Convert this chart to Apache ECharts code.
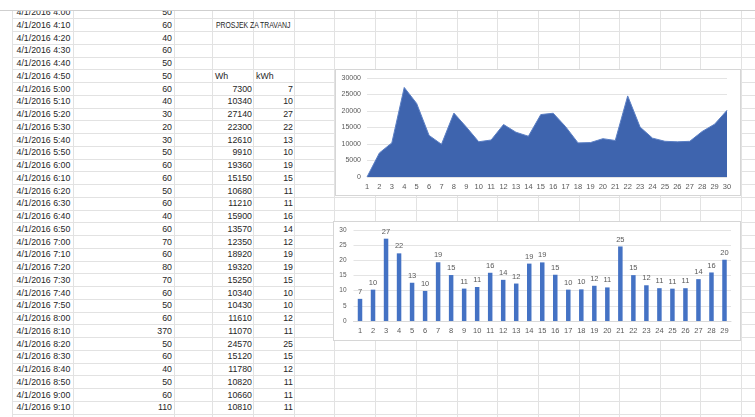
<!DOCTYPE html>
<html>
<head>
<meta charset="utf-8">
<script src="https://cdn.jsdelivr.net/npm/echarts@6/dist/echarts.min.js"></script>
<style>
  body { margin: 0; width: 755px; height: 417px; overflow: hidden; background: #fff; position: relative;
         font-family: "Liberation Sans", Arial, sans-serif; }
  #sheet { position: absolute; left: 0; top: 11px; width: 755px; height: 406px; overflow: hidden; }
  .hl { position: absolute; left: 12px; right: 0; height: 1px; background: #e2e2e2; }
  .vl { position: absolute; top: 0; bottom: 0; width: 1px; background: #e2e2e2; }
  .t { position: absolute; font-size: 8.8px; line-height: 12px; color: #262626; white-space: nowrap; }
  .r { text-align: right; }
  .chart { position: absolute; background: #fff; border: 1px solid #d6d6d6; box-sizing: border-box; }
</style>
</head>
<body>
<div style="position:absolute;left:0;top:10px;width:755px;height:1px;background:#cfcfcf"></div>
<div id="sheet"></div>
<div id="c1" class="chart" style="left:335px;top:69px;width:406px;height:127px"></div>
<div id="c2" class="chart" style="left:333px;top:221px;width:408px;height:120px"></div>
<script>
// spreadsheet columns
const times = ['4:00', '4:10', '4:20', '4:30', '4:40', '4:50', '5:00', '5:10', '5:20', '5:30', '5:40', '5:50',
  '6:00', '6:10', '6:20', '6:30', '6:40', '6:50', '7:00', '7:10', '7:20', '7:30', '7:40', '7:50',
  '8:00', '8:10', '8:20', '8:30', '8:40', '8:50', '9:00', '9:10']
const readings = [50, 60, 40, 60, 50, 50, 60, 40, 30, 20, 30, 50, 60, 60, 50, 60, 40, 60, 70, 60, 80, 70,
  60, 50, 60, 370, 50, 60, 40, 50, 60, 110]
const whCol = [7300, 10340, 27140, 22300, 12610, 9910, 19360, 15150, 10680, 11210, 15900, 13570, 12350,
  18920, 19320, 15250, 10340, 10430, 11610, 11070, 24570, 15120, 11780, 10820, 10660, 10810]
const kwhCol = [7, 10, 27, 22, 13, 10, 19, 15, 11, 11, 16, 14, 12, 19, 19, 15, 10, 10, 12, 11, 25, 15, 12, 11, 11, 11]

// chart data
const days = Array.from({ length: 30 }, (_, i) => String(i + 1))
const whDaily = [0, 7300, 10340, 27140, 22300, 12610, 9910, 19360, 15150, 10680, 11210, 15900, 13570,
  12350, 18920, 19320, 15250, 10340, 10430, 11610, 11070, 24570, 15120, 11780, 10820, 10660, 10810,
  13800, 16000, 20200]
const barDays = days.slice(0, 29)
const kwhDaily = whDaily.slice(1).map(v => v / 1000)

// --- sheet grid ---
const sheet = document.getElementById('sheet')
const rowH = 12.75
const row0 = 18.3 - 11 // top of the 4:10 row inside #sheet
const colX = [12, 73, 174, 212, 253, 294, 334, 375, 416, 457, 497, 538, 579, 619, 660, 700, 741]
let html = ''
for (let k = -1; k < 32; k++) {
  html += `<div class="hl" style="top:${(row0 + rowH * k).toFixed(1)}px"></div>`
}
colX.forEach(x => { html += `<div class="vl" style="left:${x}px"></div>` })
function cell (k, text, left, right) {
  const top = (row0 + rowH * (k - 1) + 0.6).toFixed(1)
  if (right !== undefined) return `<div class="t r" style="top:${top}px;left:${left}px;width:${right - left}px">${text}</div>`
  return `<div class="t" style="top:${top}px;left:${left}px">${text}</div>`
}
times.forEach((t, i) => {
  html += cell(i, '4/1/2016 ' + t, 16.5)
  html += cell(i, readings[i], 120, 172)
})
html += `<div class="t" style="top:${(row0 + 0.6).toFixed(1)}px;left:216px;transform:scaleX(0.78);transform-origin:left">PROSJEK ZA TRAVANJ</div>`
html += cell(5, 'Wh', 215)
html += cell(5, 'kWh', 256)
whCol.forEach((v, i) => {
  html += cell(i + 6, v, 214, 252)
  html += cell(i + 6, kwhCol[i], 256, 293)
})
sheet.innerHTML = html

// --- charts ---
const labelColor = '#595959'
const font = '"Liberation Sans", Arial, sans-serif'

const chart1 = echarts.init(document.getElementById('c1'))
chart1.setOption({
  animation: false,
  grid: { left: 31, right: 13, top: 8, bottom: 18 },
  xAxis: {
    type: 'category',
    data: days,
    boundaryGap: false,
    axisLine: { show: false },
    axisTick: { show: false },
    axisLabel: { color: labelColor, fontSize: 7.5, fontFamily: font, margin: 6, interval: 0 }
  },
  yAxis: {
    type: 'value',
    min: 0,
    max: 30000,
    interval: 5000,
    axisLine: { show: false },
    axisTick: { show: false },
    axisLabel: { color: labelColor, fontSize: 7, fontFamily: font, margin: 6, formatter: v => String(v) },
    splitLine: { lineStyle: { color: '#e4e4e4' } }
  },
  series: [{
    type: 'line',
    data: whDaily,
    symbol: 'none',
    lineStyle: { color: '#5b7fc4', width: 1 },
    areaStyle: { color: '#3e64ae', opacity: 1 }
  }]
})

const chart2 = echarts.init(document.getElementById('c2'))
chart2.setOption({
  animation: false,
  grid: { left: 19.5, right: 9, top: 8, bottom: 19 },
  xAxis: {
    type: 'category',
    data: barDays,
    axisLine: { lineStyle: { color: '#d9d9d9' } },
    axisTick: { show: false },
    axisLabel: { color: labelColor, fontSize: 7.5, fontFamily: font, margin: 6, interval: 0 }
  },
  yAxis: {
    type: 'value',
    min: 0,
    max: 30,
    interval: 5,
    axisLine: { show: false },
    axisTick: { show: false },
    axisLabel: { color: labelColor, fontSize: 6.5, fontFamily: font, margin: 7 },
    splitLine: { lineStyle: { color: '#e4e4e4' } }
  },
  series: [{
    type: 'bar',
    data: kwhDaily,
    barWidth: 4.5,
    itemStyle: { color: '#4472c4' },
    label: {
      show: true,
      position: 'top',
      distance: 3,
      color: labelColor,
      fontSize: 7.5,
      fontFamily: font,
      formatter: p => Math.round(p.value)
    }
  }]
})
</script>
</body>
</html>
